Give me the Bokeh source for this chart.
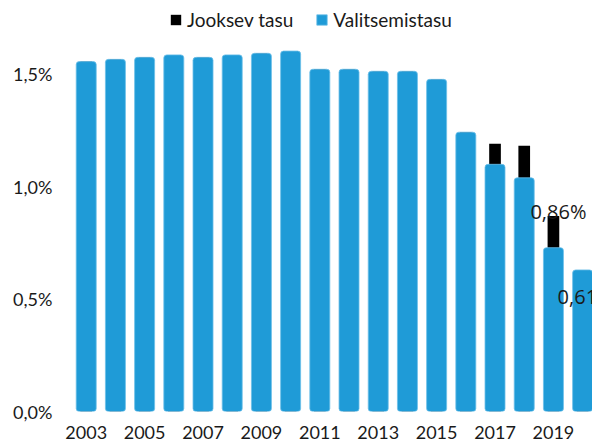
from bokeh.plotting import figure
from bokeh.models import ColumnDataSource, FixedTicker, Legend, LegendItem, CustomJSTickFormatter
from bokeh.embed import file_html
from bokeh.resources import INLINE
from bokeh.core.properties import value

years = list(range(2003, 2021))
valitsemistasu = [1.557, 1.567, 1.576, 1.587, 1.576, 1.587, 1.594, 1.604, 1.523, 1.523,
                  1.514, 1.514, 1.478, 1.243, 1.100, 1.040, 0.729, 0.630]
jooksev_tasu = [0, 0, 0, 0, 0, 0, 0, 0, 0, 0, 0, 0, 0, 0, 0.092, 0.143, 0.141, 0]
y_ticks = [0.0, 0.5, 1.0, 1.5]
x_ticks = list(range(2003, 2020, 2))

label_year_total = [2019]
label_text_total = ["0,86%"]
label_year_inner = [2020]
label_text_inner = ["0,61%"]

BLUE = "#1f9bd7"
TXT = "#1a1a1a"
FONT = "Lato"

total = [v + j for v, j in zip(valitsemistasu, jooksev_tasu)]
src = ColumnDataSource(dict(x=years, val=valitsemistasu, total=total))

p = figure(width=592, height=447, x_range=(2002.188, 2020.338), y_range=(0, 1.829),
           output_backend="svg", toolbar_location=None,
           min_border_left=62, min_border_right=0, min_border_top=0, min_border_bottom=36)
p.outline_line_color = None
p.xgrid.visible = False
p.ygrid.visible = False

r_black = p.vbar(x="x", top="total", bottom=0, width=0.4, source=src,
                 fill_color="black", line_color=None)
r_blue = p.vbar(x="x", top="val", bottom=0, width=0.685, source=src,
                fill_color=BLUE, line_color="#6cbfe9", line_width=0.8, border_radius=3)

# data labels
tot_map = dict(zip(years, total))
val_map = dict(zip(years, valitsemistasu))
src_l1 = ColumnDataSource(dict(x=label_year_total, y=[tot_map[y] for y in label_year_total], t=label_text_total))
src_l2 = ColumnDataSource(dict(x=label_year_inner, y=[val_map[y] for y in label_year_inner], t=label_text_inner))
p.text(x="x", y="y", text="t", source=src_l1, x_offset=5, y_offset=-4,
       text_align="center", text_baseline="alphabetic", text_font=value("Open Sans"),
       text_font_size="20px", text_color=TXT)
p.text(x="x", y="y", text="t", source=src_l2, x_offset=3, y_offset=27,
       text_align="center", text_baseline="alphabetic", text_font=value("Open Sans"),
       text_font_size="20px", text_color=TXT)

for ax in (p.xaxis[0], p.yaxis[0]):
    ax.axis_line_color = None
    ax.major_tick_line_color = None
    ax.minor_tick_line_color = None
    ax.major_tick_out = 0
    ax.major_tick_in = 0
    ax.major_label_text_font = FONT
    ax.major_label_text_font_size = "18px"
    ax.major_label_text_color = TXT

p.yaxis.ticker = FixedTicker(ticks=y_ticks)
p.yaxis.formatter = CustomJSTickFormatter(code="return tick.toFixed(1).replace('.', ',') + '%';")
p.yaxis.major_label_standoff = 10
p.xaxis.ticker = FixedTicker(ticks=x_ticks)
p.xaxis.major_label_standoff = 14

legend = Legend(items=[LegendItem(label="Jooksev tasu", renderers=[r_black]),
                       LegendItem(label="Valitsemistasu", renderers=[r_blue])],
                orientation="horizontal", location=(107, 380),
                padding=0, margin=0, spacing=22, label_standoff=5,
                glyph_width=13, glyph_height=13,
                label_text_font=FONT, label_text_font_size="19px", label_text_color=TXT,
                border_line_color=None, background_fill_alpha=0)
p.add_layout(legend)

open("out.html", "w").write(file_html(p, INLINE))
